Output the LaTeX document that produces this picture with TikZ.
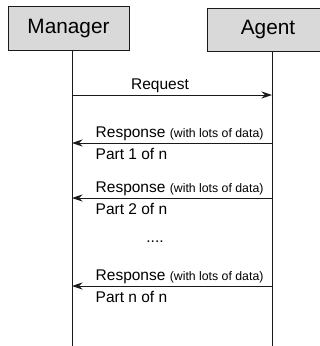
\documentclass[tikz,border=0pt]{standalone}
\usepackage{fontspec}
\setmainfont{Liberation Sans}
\usetikzlibrary{arrows.meta,calc}
\tikzset{>={Stealth[length=10.5pt,width=7pt]}}
\definecolor{BoxFill}{HTML}{D9D9D9}
\definecolor{LineColor}{HTML}{1A1A1A}
\newcommand{\boxfont}{\fontsize{20.8}{24}\selectfont}
\newcommand{\msgfont}{\fontsize{15.5}{18}\selectfont}
\newcommand{\notefont}{\fontsize{12.3}{14}\selectfont}
\tikzset{
  actor/.style={draw=LineColor, line width=0.9pt, fill=BoxFill, inner sep=0pt,
    font=\boxfont, text=black},
  lifeline/.style={draw=LineColor, line width=0.9pt},
  msg/.style={draw=LineColor, line width=0.9pt, ->},
  msglabel/.style={anchor=base west, font=\msgfont, inner sep=0pt, text=black}
}
\begin{document}
\begin{tikzpicture}[x=1pt,y=-1pt]
  \useasboundingbox (0,0) rectangle (320,346);
  \node[actor, minimum width=121pt, minimum height=44pt] (manager) at (68.5,28) {Manager};
  \node[actor, minimum width=122pt, minimum height=43pt] (agent) at (268,29.5) {Agent};
  \coordinate (mtop) at (72,50);
  \coordinate (mbot) at (72,346);
  \coordinate (atop) at (272,51);
  \coordinate (abot) at (272,346);
  \draw[lifeline] (mtop) -- (mbot);
  \draw[lifeline] (atop) -- (abot);
  % Requête
  \coordinate (req-m) at (72,95);
  \coordinate (req-a) at (272,95);
  \draw[msg] (req-m) -- (req-a);
  \node[msglabel, anchor=base] (req) at (160,89.3) {Request};
  % Réponses
  \foreach \y/\part in {143/1, 198/2, 286/n}{
    \coordinate (resp-a-\part) at (272,\y);
    \coordinate (resp-m-\part) at (72,\y);
    \draw[msg] (resp-a-\part) -- (resp-m-\part);
    \node[msglabel] (resp-\part) at (95.5,\y-5.3) {Response {\notefont (with lots of data)}};
    \node[msglabel] (part-\part) at (95.5,\y+16.3) {Part \part\ of n};
  }
  \node[msglabel, anchor=base] (dots) at (155,242.7) {....};
\end{tikzpicture}
\end{document}
